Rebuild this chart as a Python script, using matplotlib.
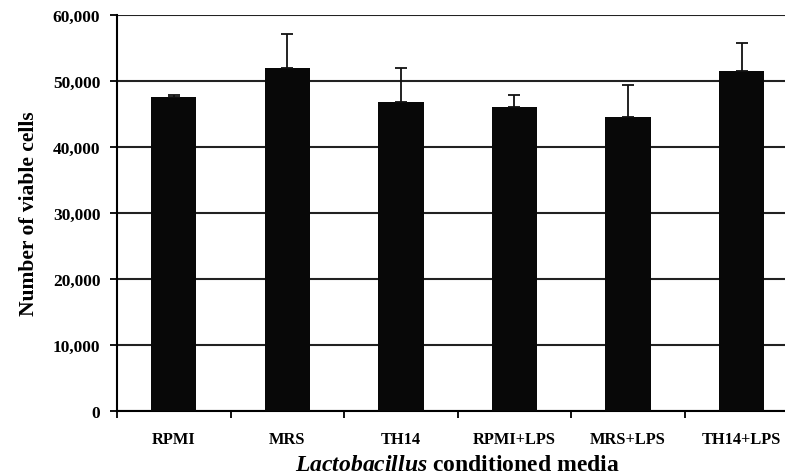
import numpy as np
import matplotlib.pyplot as plt
from matplotlib.ticker import FuncFormatter, FixedLocator

plt.rcParams['font.family'] = ['Liberation Serif', 'DejaVu Serif']
plt.rcParams['mathtext.fontset'] = 'custom'
plt.rcParams['mathtext.it'] = 'Liberation Serif:italic:bold'
plt.rcParams['mathtext.rm'] = 'Liberation Serif:bold'

# data
media = ['RPMI', 'MRS', 'TH14', 'RPMI+LPS', 'MRS+LPS', 'TH14+LPS']
viable = [47500, 52000, 46800, 46050, 44450, 51450]
err_up = [300, 5150, 5150, 1750, 4950, 4300]

fig = plt.figure(figsize=(7.85, 4.77), dpi=100)
# axes run slightly past the right edge, like the cropped original
ax = fig.add_axes([0.149, 0.137, 0.868, 0.830])

x = np.arange(len(media))
ax.set_axisbelow(True)
ax.yaxis.grid(True, color='#222222', linewidth=1.5)
ax.bar(x, viable, width=0.4, color='#080808', zorder=3)
ax.errorbar(x, viable, yerr=[np.zeros(len(x)), err_up], fmt='none',
            ecolor='#111111', elinewidth=1.3, capsize=4, capthick=1.3, zorder=4)

ax.set_xlim(-0.5, len(media) - 0.5)
ax.set_ylim(0, 60000)
ax.set_yticks(np.arange(0, 60001, 10000))
ax.yaxis.set_major_formatter(FuncFormatter(lambda v, p: f'{int(v):,}'))

ax.set_xticks(x)
ax.set_xticklabels(media)
ax.xaxis.set_minor_locator(FixedLocator(np.arange(-0.5, len(media) + 0.5, 1)))
ax.tick_params(axis='x', which='major', length=0, pad=15, labelsize=11.8)
ax.tick_params(axis='x', which='minor', length=5, width=1.3, direction='out')
ax.tick_params(axis='y', length=5, width=1.3, pad=7, labelsize=12.5)
for lbl in ax.get_xticklabels() + ax.get_yticklabels():
    lbl.set_fontweight('bold')

for s in ['top', 'right']:
    ax.spines[s].set_visible(False)
for s in ['left', 'bottom']:
    ax.spines[s].set_linewidth(1.5)

ax.set_ylabel('Number of viable cells', fontsize=15.5, fontweight='bold', labelpad=10)
ax.set_xlabel(r'$\it{Lactobacillus}$ conditioned media', fontsize=17,
              fontweight='bold', labelpad=5)

fig.savefig('out.png', dpi=100)
